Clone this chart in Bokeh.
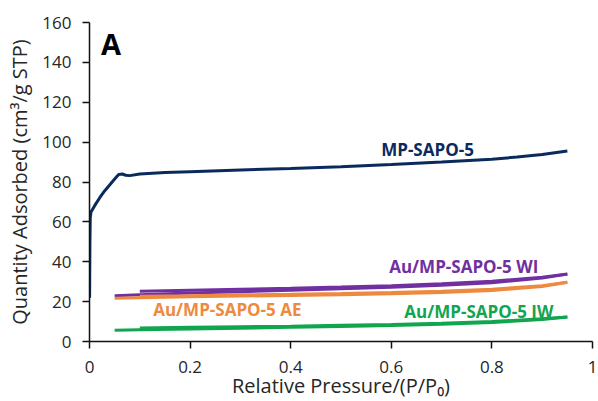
from bokeh.plotting import figure
from bokeh.models import Label
from bokeh.embed import file_html
from bokeh.resources import INLINE

# --- data ---
mp_p = [0.0002, 0.0008, 0.0015, 0.003, 0.01, 0.02, 0.03, 0.04, 0.05, 0.058, 0.065, 0.072, 0.08, 0.1, 0.15, 0.2, 0.3, 0.4, 0.5, 0.6, 0.7, 0.8, 0.85, 0.9, 0.95]
mp_q = [22.0, 48.0, 62.0, 65.0, 68.0, 72.0, 75.5, 78.5, 81.5, 83.8, 84.0, 83.4, 83.2, 84.0, 84.8, 85.2, 86.0, 86.8, 87.7, 88.8, 90.0, 91.4, 92.5, 93.8, 95.6]

ads_p = [0.05, 0.1, 0.2, 0.3, 0.4, 0.5, 0.6, 0.7, 0.8, 0.9, 0.95]
des_p = [0.95, 0.9, 0.8, 0.7, 0.6, 0.5, 0.4, 0.3, 0.2, 0.1]

wi_ads = [23.0, 23.5, 24.3, 25.0, 25.7, 26.4, 27.2, 28.2, 29.5, 31.8, 33.8]
wi_des = [33.8, 32.2, 30.2, 29.0, 28.0, 27.3, 26.7, 26.2, 25.7, 25.2]

ae_ads = [21.7, 22.0, 22.4, 22.8, 23.1, 23.5, 24.0, 24.6, 25.6, 27.6, 29.7]
ae_des = [29.7, 28.0, 26.2, 25.2, 24.6, 24.1, 23.7, 23.4, 23.0, 22.7]

iw_ads = [5.7, 5.9, 6.3, 6.7, 7.1, 7.5, 8.0, 8.6, 9.5, 11.0, 12.3]
iw_des = [12.3, 11.4, 10.0, 9.1, 8.5, 8.1, 7.7, 7.4, 7.1, 6.8]

x_ticks = [0, 0.2, 0.4, 0.6, 0.8, 1]
y_ticks = [0, 20, 40, 60, 80, 100, 120, 140, 160]

NAVY = "#0b2a5c"
PURPLE = "#7030a0"
ORANGE = "#ed8a3f"
GREEN = "#12a54f"
FONT = "Open Sans"

p = figure(width=598, height=401, x_range=(0, 1), y_range=(0, 160),
           output_backend="svg", toolbar_location=None,
           min_border_left=89, min_border_right=6, min_border_top=22, min_border_bottom=59)

p.outline_line_color = None
p.xgrid.grid_line_color = None
p.ygrid.grid_line_color = None

for ax in (p.xaxis[0], p.yaxis[0]):
    ax.axis_line_color = "#111111"
    ax.axis_line_width = 1.5
    ax.major_tick_line_color = "#111111"
    ax.major_tick_line_width = 1.5
    ax.major_tick_out = 7
    ax.major_tick_in = 0
    ax.minor_tick_line_color = None
    ax.major_label_text_font = FONT
    ax.major_label_text_font_size = "17px"
    ax.major_label_text_color = "#262626"
    ax.axis_label_text_font = FONT
    ax.axis_label_text_font_size = "20px"
    ax.axis_label_text_font_style = "normal"
    ax.axis_label_text_color = "#262626"

p.xaxis.ticker = x_ticks
p.yaxis.ticker = y_ticks
p.xaxis.major_label_overrides = {0: "0", 1: "1"}
p.xaxis.axis_label = "Relative Pressure/(P/P\u2080)"
p.yaxis.axis_label = "Quantity Adsorbed (cm\u00b3/g STP)"
p.xaxis.major_label_standoff = 12
p.yaxis.major_label_standoff = 11
p.xaxis.axis_label_standoff = -4
p.yaxis.axis_label_standoff = 6

p.line(mp_p, mp_q, line_color=NAVY, line_width=3)
for ads, des, c in ((wi_ads, wi_des, PURPLE), (ae_ads, ae_des, ORANGE), (iw_ads, iw_des, GREEN)):
    p.line(ads_p, ads, line_color=c, line_width=3)
    p.line(des_p, des, line_color=c, line_width=3)

labels = [
    ("MP-SAPO-5", 0.672, 96.5, NAVY),
    ("Au/MP-SAPO-5 WI", 0.744, 37.7, PURPLE),
    ("Au/MP-SAPO-5 AE", 0.274, 16.0, ORANGE),
    ("Au/MP-SAPO-5 IW", 0.774, 15.2, GREEN),
]
for t, x, y, c in labels:
    p.add_layout(Label(x=x, y=y, text=t, text_color=c, text_font=FONT,
                       text_font_size="17px", text_font_style="bold",
                       text_align="center", text_baseline="middle"))

p.add_layout(Label(x=0.043, y=149.5, text="A", text_color="#000000", text_font=FONT,
                   text_font_size="29px", text_font_style="bold",
                   text_align="center", text_baseline="middle"))

open("out.html", "w").write(file_html(p, INLINE))
